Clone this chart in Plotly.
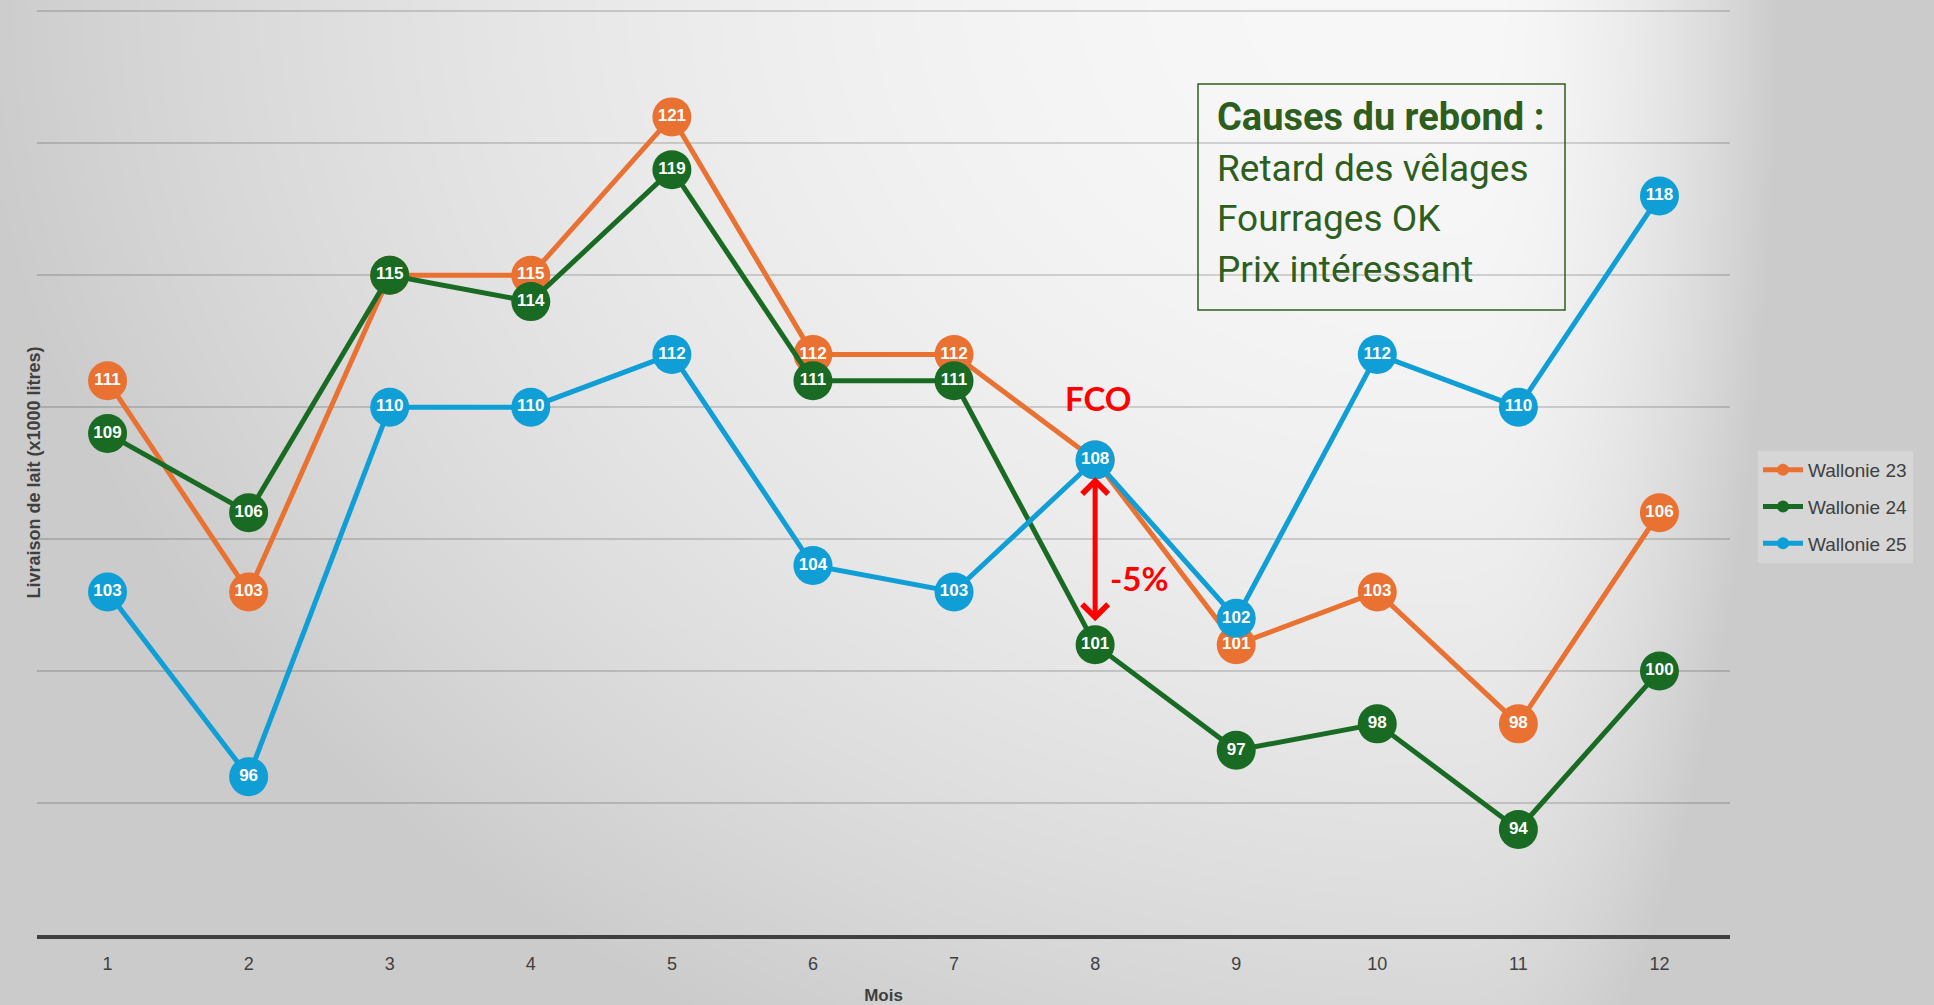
import base64
import struct
import zlib

import numpy as np
import plotly.graph_objects as go

# ---------------- data ----------------
mois = [1, 2, 3, 4, 5, 6, 7, 8, 9, 10, 11, 12]
wallonie_23 = [111, 103, 115, 115, 121, 112, 112, 108, 101, 103, 98, 106]
wallonie_24 = [109, 106, 115, 114, 119, 111, 111, 101, 97, 98, 94, 100]
wallonie_25 = [103, 96, 110, 110, 112, 104, 103, 108, 102, 112, 110, 118]
series_names = ["Wallonie 23", "Wallonie 24", "Wallonie 25"]
series_colors = ["#E97132", "#196B24", "#0F9ED5"]
causes_title = "Causes du rebond :"
causes_lines = ["Retard des vêlages", "Fourrages OK", "Prix intéressant"]

W, H = 1934, 1005
ML, MR, MT, MB = 37, 204, 10, 70
PW, PH = W - ML - MR, H - MT - MB


# ---------------- background gradient (PNG built in memory) ----------------
def png_data_uri(arr):
    h, w = arr.shape
    raw = b"".join(b"\x00" + arr[i].tobytes() for i in range(h))

    def chunk(tag, data):
        c = tag + data
        return struct.pack(">I", len(data)) + c + struct.pack(">I", zlib.crc32(c) & 0xFFFFFFFF)

    png = b"\x89PNG\r\n\x1a\n"
    png += chunk(b"IHDR", struct.pack(">IIBBBBB", w, h, 8, 0, 0, 0, 0))
    png += chunk(b"IDAT", zlib.compress(raw, 9))
    png += chunk(b"IEND", b"")
    return "data:image/png;base64," + base64.b64encode(png).decode()


step = 2
gx, gy = np.meshgrid(np.arange(0, W, step, dtype=float), np.arange(0, H, step, dtype=float))
cx, cy = 1460.0, -20.0
sx = np.where(gx < cx, 1550.0, 330.0)
t = np.sqrt(((gx - cx) / sx) ** 2 + ((gy - cy) / 1250.0) ** 2)
bg = np.clip(248 - 48 * t ** 2, 203, 248).astype(np.uint8)
bg_uri = png_data_uri(bg)

# ---------------- figure ----------------
fig = go.Figure()
for name, vals, col in zip(series_names, [wallonie_23, wallonie_24, wallonie_25], series_colors):
    fig.add_trace(
        go.Scatter(
            x=mois,
            y=vals,
            name=name,
            legendgroup=name,
            mode="lines+markers+text",
            line=dict(color=col, width=5),
            marker=dict(color=col, size=39, line=dict(width=0)),
            text=[str(v) for v in vals],
            textposition="middle center",
            textfont=dict(family="Liberation Sans, Arial, sans-serif", size=17, color="white", weight="bold"),
            cliponaxis=False,
        )
    )

fig.add_layout_image(
    dict(
        source=bg_uri,
        xref="paper",
        yref="paper",
        x=-ML / PW,
        y=1 + MT / PH,
        sizex=W / PW,
        sizey=H / PH,
        xanchor="left",
        yanchor="top",
        sizing="stretch",
        layer="below",
    )
)

# text box with causes
box_left, box_top, box_right, box_bottom = 1198, 84, 1565, 310
fig.add_shape(
    type="rect",
    xref="paper",
    yref="paper",
    x0=(box_left - ML) / PW,
    x1=(box_right - ML) / PW,
    y0=(H - MB - box_bottom) / PH,
    y1=(H - MB - box_top) / PH,
    line=dict(color="#2E5E1E", width=1.5),
    fillcolor="rgba(0,0,0,0)",
)
line_centers = [117, 168, 218, 269]
for i, (txt, yc) in enumerate(zip([causes_title] + causes_lines, line_centers)):
    fig.add_annotation(
        text=f"<b>{txt}</b>" if i == 0 else txt,
        xref="paper",
        yref="paper",
        x=(1215 - ML) / PW,
        y=(H - MB - yc) / PH,
        xanchor="left",
        yanchor="middle",
        showarrow=False,
        font=dict(family="Roboto, sans-serif", size=38 if i == 0 else 37, color="#2E5E1E"),
    )

# red double arrow between Wallonie 25 and Wallonie 24 at month 8
idx = mois.index(8)
fig.add_annotation(
    x=8,
    y=wallonie_25[idx],
    ax=8,
    ay=wallonie_24[idx],
    xref="x",
    yref="y",
    axref="x",
    ayref="y",
    text="",
    showarrow=True,
    arrowhead=4,
    startarrowhead=4,
    arrowside="end+start",
    arrowcolor="#FF0000",
    arrowwidth=5,
    arrowsize=1,
    startarrowsize=1,
    standoff=17,
    startstandoff=22,
)
fig.add_annotation(
    text="<b>FCO</b>",
    x=8,
    xref="x",
    xshift=3,
    y=(H - MB - 398) / PH,
    yref="paper",
    showarrow=False,
    font=dict(family="Lato, sans-serif", size=33, color="#FF0000"),
)
fig.add_annotation(
    text="<b>-5%</b>",
    x=8,
    xref="x",
    xshift=44,
    y=(H - MB - 578) / PH,
    yref="paper",
    showarrow=False,
    font=dict(family="Lato, sans-serif", size=33, color="#FF0000"),
)

# y-axis title
fig.add_annotation(
    text="<b>Livraison de lait (x1000 litres)</b>",
    xref="paper",
    yref="paper",
    x=0,
    xshift=-16,
    y=0.5,
    textangle=-90,
    showarrow=False,
    font=dict(family="Liberation Sans, Arial, sans-serif", size=18, color="#404040"),
)

fig.update_layout(
    width=W,
    height=H,
    margin=dict(l=ML, r=MR, t=MT, b=MB),
    paper_bgcolor="#d0d0d0",
    plot_bgcolor="rgba(0,0,0,0)",
    showlegend=True,
    legend=dict(
        x=(1758 - ML) / PW,
        y=(H - MB - 451) / PH,
        xanchor="left",
        yanchor="top",
        bgcolor="rgba(255,255,255,0.22)",
        font=dict(family="Liberation Sans, Arial, sans-serif", size=19, color="#404040"),
        itemsizing="constant",
        tracegroupgap=9,
        itemwidth=40,
    ),
    xaxis=dict(
        range=[0.5, 12.5],
        tickmode="array",
        tickvals=mois,
        ticktext=[str(m) for m in mois],
        showgrid=False,
        zeroline=False,
        showline=True,
        linecolor="#404040",
        linewidth=4,
        ticks="",
        ticklabelstandoff=9,
        tickfont=dict(family="Liberation Sans, Arial, sans-serif", size=18, color="#404040"),
        title=dict(
            text="<b>Mois</b>",
            font=dict(family="Liberation Sans, Arial, sans-serif", size=17, color="#404040"),
            standoff=19,
        ),
        automargin=False,
        fixedrange=True,
    ),
    yaxis=dict(
        range=[90, 125.05],
        dtick=5,
        tick0=90,
        showticklabels=False,
        showgrid=True,
        gridcolor="rgba(0,0,0,0.15)",
        gridwidth=2,
        zeroline=False,
        showline=False,
        ticks="",
        automargin=False,
        fixedrange=True,
    ),
)

fig.write_html(
    "out.html",
    config={"displayModeBar": False},
    post_script="document.body.style.margin='0';document.body.style.overflow='hidden';",
)
